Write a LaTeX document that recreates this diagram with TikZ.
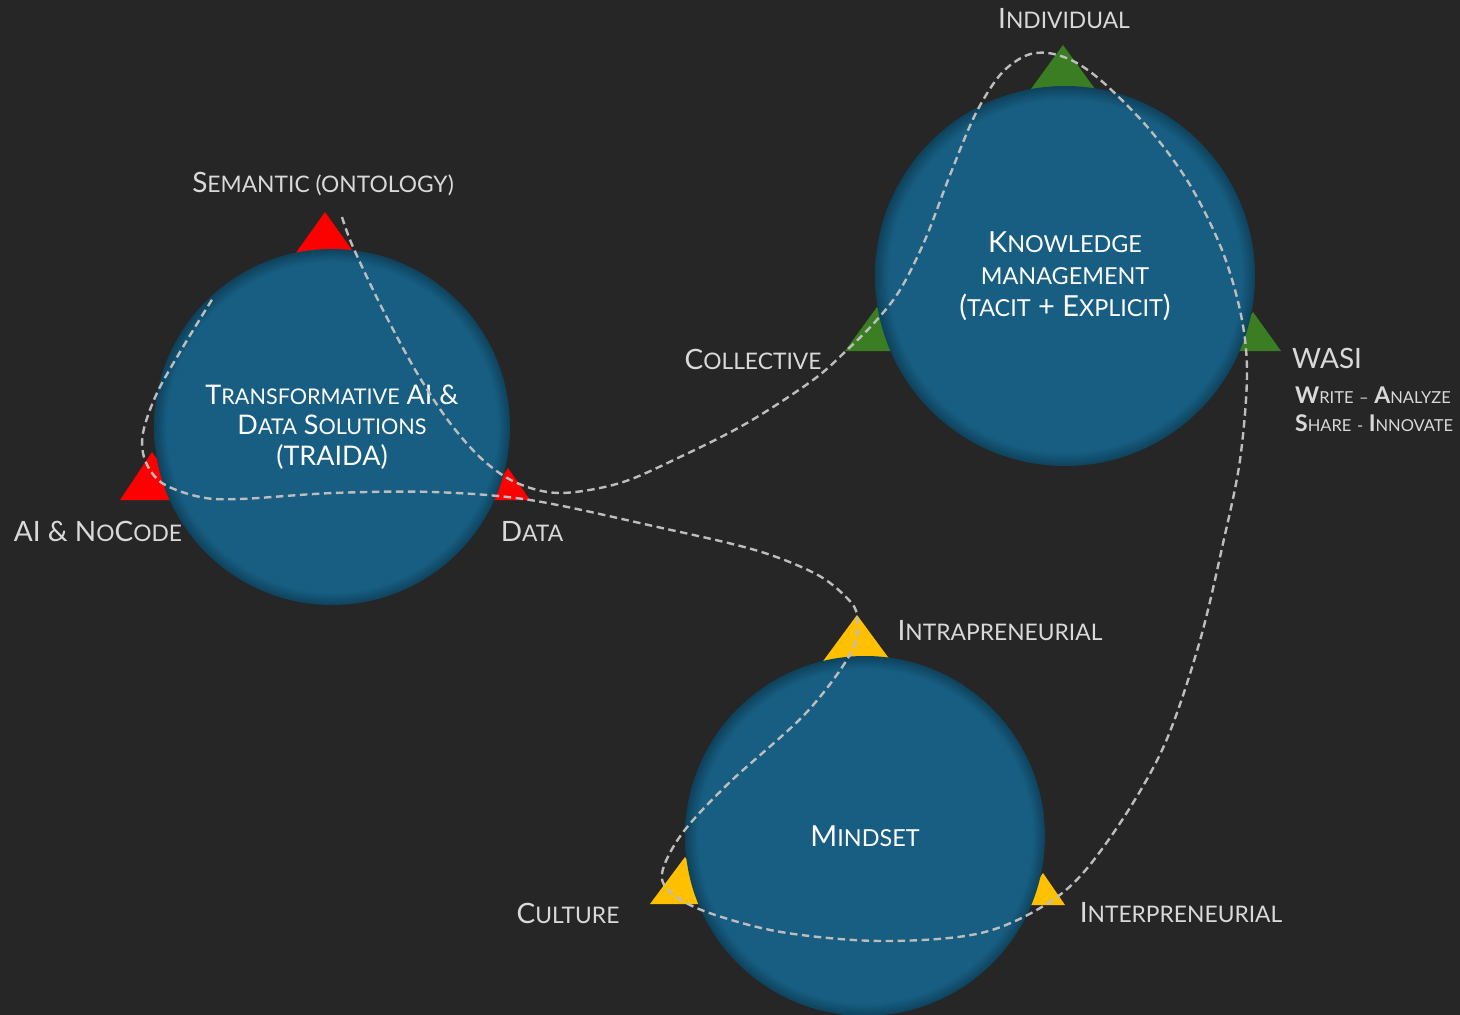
\documentclass[tikz,border=0pt]{standalone}
\usepackage{fontspec}
\setmainfont{Lato}
\usepackage{tikz}
\definecolor{bgc}{HTML}{262626}
\definecolor{orbc}{HTML}{175E82}
\definecolor{orbe}{HTML}{0E425C}
\definecolor{trired}{HTML}{FF0000}
\definecolor{trigreen}{HTML}{3A7D22}
\definecolor{triyellow}{HTML}{FFC000}
\definecolor{lblc}{HTML}{D9D9D9}
\definecolor{pathc}{HTML}{BDBDBD}
\pgfdeclareradialshading{orbshade}{\pgfpoint{0bp}{0bp}}{color(0bp)=(orbc); color(23.2bp)=(orbc); color(25bp)=(orbe); color(50bp)=(orbe)}
\newcommand{\lc}[1]{{\fontsize{22.8}{31}\selectfont #1}}
\newcommand{\ic}[1]{{\fontsize{21.6}{31}\selectfont #1}}
\newcommand{\kc}[1]{{\fontsize{23.4}{32}\selectfont #1}}
\newcommand{\wc}[1]{{\fontsize{16.5}{28}\selectfont\mdseries #1}}
\begin{document}
\begin{tikzpicture}[x=1pt,y=-1pt,
  orb/.style={circle,minimum size=#1,shading=orbshade,text=white,align=center,font=\fontsize{27}{30.5}\selectfont},
  lbl/.style={text=lblc,font=\fontsize{28}{31}\selectfont},
  trail/.style={pathc,line width=2.4pt,dash pattern=on 7.5pt off 4.5pt}]
\tikzstyle{every node}+=[inner sep=0pt]
\useasboundingbox (0,0) rectangle (1460,1015);
\fill [bgc] (0,0) rectangle (1460,1015);
\fill [trired] (325,212) -- (288,264) -- (362,264) -- cycle;
\fill [trired] (152,452) -- (120,500) -- (186,500) -- cycle;
\fill [trired] (508,468) -- (486,500) -- (530,500) -- cycle;
\fill [trigreen] (1063,45) -- (1023,100) -- (1103,100) -- cycle;
\fill [trigreen] (877,307) -- (845,351) -- (909,351) -- cycle;
\fill [trigreen] (1253,312) -- (1225,351) -- (1281,351) -- cycle;
\fill [triyellow] (857,615) -- (818,668) -- (896,668) -- cycle;
\fill [triyellow] (685,857) -- (650,904) -- (720,904) -- cycle;
\fill [triyellow] (1043,873) -- (1021,905) -- (1065,905) -- cycle;
\node [orb=356pt] (traida) at (332,427) {T\ic{RANSFORMATIVE} AI \&\\D\ic{ATA} S\ic{OLUTIONS}\\(TRAIDA)};
\node [orb=380pt,font=\fontsize{29}{32}\selectfont] (km) at (1065,276) {K\kc{NOWLEDGE}\\\kc{MANAGEMENT}\\(\kc{TACIT} + E\kc{XPLICIT})};
\node [orb=360pt,font=\fontsize{29}{32}\selectfont] (mind) at (865,836) {M\kc{INDSET}};
\coordinate (pstart) at (342,217);
\coordinate (pend) at (213,298);
\draw [trail] plot [smooth,tension=0.55] coordinates {(pstart) (353,247) (383,310) (417,373) (450,423) (483,460) (517,483) (560,493) (620,483) (680,457) (747,423) (813,380) (847,350) (875,322) (900,290) (925,240) (950,175) (975,115) (1000,75) (1025,56) (1048,53) (1075,62) (1105,84) (1150,130) (1190,185) (1222,250) (1241,315) (1247,375) (1240,460) (1224,539) (1199,644) (1163,748) (1112,835) (1061,894) (985,932) (883,941) (781,932) (704,911) (668,890) (663,869) (684,831) (730,782) (806,713) (852,651) (857,616) (847,598) (816,574) (755,550) (653,526) (530,500) (433,492) (333,493) (240,499) (200,497) (162,483) (145,460) (143,433) (157,393) (183,347) (pend)};
\node [lbl] (semantic) at (323,184) {S\lc{EMANTIC (ONTOLOGY)}};
\node [lbl] (nocode) at (98,531) {AI \& N\lc{O}C\lc{ODE}};
\node [lbl] (data) at (532,531) {D\lc{ATA}};
\node [lbl] (individual) at (1064,19) {I\lc{NDIVIDUAL}};
\node [lbl] (collective) at (753,359) {C\lc{OLLECTIVE}};
\node [lbl,anchor=west] (wasi) at (1292,358) {WASI};
\node [lbl,anchor=west,align=left,font=\fontsize{23}{28}\selectfont\bfseries] (wasisub) at (1295,409) {W\wc{RITE} \wc{–} A\wc{NALYZE}\\S\wc{HARE} \wc{-} I\wc{NNOVATE}};
\node [lbl] (intra) at (1000,631) {I\lc{NTRAPRENEURIAL}};
\node [lbl] (culture) at (568,913) {C\lc{ULTURE}};
\node [lbl] (inter) at (1181,913) {I\lc{NTERPRENEURIAL}};
\end{tikzpicture}
\end{document}
